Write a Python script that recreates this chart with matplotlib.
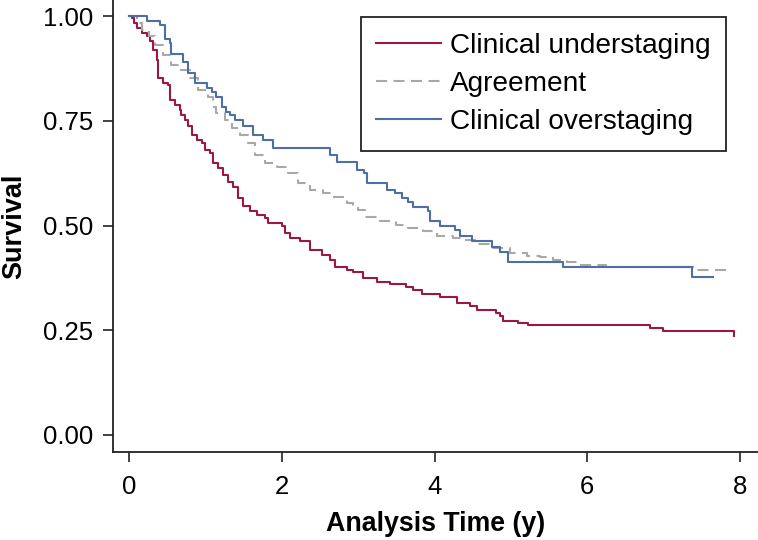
import numpy as np
import matplotlib
matplotlib.use('Agg')
import matplotlib.pyplot as plt

plt.rcParams['font.family'] = ['Liberation Sans', 'DejaVu Sans']

# ------- Kaplan-Meier data -------
under_t = [0, 0.03, 0.06, 0.094, 0.16, 0.225, 0.27, 0.31, 0.356, 0.378, 0.44, 0.51, 0.53,
           0.60, 0.66, 0.68, 0.73, 0.77, 0.815, 0.88, 0.946, 0.99, 1.055, 1.10, 1.16, 1.23,
           1.295, 1.36, 1.426, 1.49, 1.58, 1.67, 1.78, 1.82, 2.0, 2.04, 2.10, 2.23, 2.37,
           2.52, 2.63, 2.69, 2.85, 2.93, 3.06, 3.24, 3.41, 3.63, 3.72, 3.83, 4.07, 4.29,
           4.46, 4.55, 4.81, 4.86, 4.90, 5.10, 5.23, 6.82, 7.0, 7.93]
under_s = [1.0, 0.996, 0.984, 0.972, 0.960, 0.952, 0.94, 0.92, 0.896, 0.852, 0.84, 0.836, 0.80,
           0.788, 0.777, 0.765, 0.753, 0.737, 0.717, 0.705, 0.697, 0.681, 0.673, 0.649, 0.637, 0.621,
           0.605, 0.593, 0.566, 0.546, 0.534, 0.526, 0.518, 0.506, 0.498, 0.482, 0.470, 0.462, 0.442,
           0.430, 0.418, 0.402, 0.394, 0.390, 0.374, 0.366, 0.361, 0.354, 0.346, 0.337, 0.329, 0.315,
           0.309, 0.299, 0.292, 0.283, 0.273, 0.268, 0.263, 0.255, 0.247, 0.235]

agree_t = [0, 0.094, 0.16, 0.25, 0.33, 0.44, 0.55, 0.66, 0.79, 0.90, 1.03, 1.10, 1.14, 1.25,
           1.34, 1.45, 1.56, 1.64, 1.78, 1.93, 2.08, 2.21, 2.37, 2.54, 2.67, 2.85, 2.93, 3.0,
           3.09, 3.28, 3.50, 3.65, 3.85, 4.03, 4.24, 4.37, 4.55, 4.77, 4.99, 5.21, 5.38, 5.55,
           5.73, 5.90, 6.25, 7.45, 7.89]
agree_s = [1.0, 0.984, 0.968, 0.952, 0.932, 0.908, 0.884, 0.872, 0.852, 0.824, 0.808, 0.784, 0.770, 0.753,
           0.733, 0.717, 0.697, 0.669, 0.649, 0.641, 0.625, 0.601, 0.585, 0.577, 0.569, 0.553, 0.546, 0.538,
           0.520, 0.512, 0.502, 0.494, 0.486, 0.476, 0.470, 0.466, 0.456, 0.446, 0.434, 0.428, 0.424, 0.418,
           0.412, 0.406, 0.402, 0.394, 0.394]

over_t = [0, 0.225, 0.40, 0.465, 0.53, 0.55, 0.705, 0.77, 0.86, 1.01, 1.08, 1.14, 1.21, 1.27,
          1.32, 1.38, 1.49, 1.62, 1.75, 1.88, 2.63, 2.72, 2.98, 3.07, 3.11, 3.37, 3.48, 3.57,
          3.65, 3.72, 3.92, 3.94, 4.07, 4.27, 4.33, 4.49, 4.75, 4.86, 4.96, 5.68, 7.37, 7.65]
over_s = [1.0, 0.990, 0.980, 0.945, 0.936, 0.910, 0.892, 0.864, 0.840, 0.828, 0.820, 0.808, 0.784, 0.772,
          0.765, 0.753, 0.737, 0.717, 0.705, 0.685, 0.669, 0.653, 0.633, 0.625, 0.601, 0.585, 0.577, 0.565,
          0.557, 0.544, 0.534, 0.512, 0.498, 0.490, 0.474, 0.462, 0.450, 0.438, 0.412, 0.400, 0.378, 0.378]

labels = ['Clinical understaging', 'Agreement', 'Clinical overstaging']
colors = ['#9c1840', '#a8a8a8', '#4e6ea6']
# ------- /

fig = plt.figure(figsize=(7.58, 5.40), dpi=100)
ax = fig.add_axes([113 / 758, 88 / 540, 645 / 758, 452 / 540])

ax.step(under_t, under_s, where='post', color=colors[0], lw=1.5, label=labels[0])
ax.step(agree_t, agree_s, where='post', color=colors[1], lw=1.5, dashes=(5.3, 3.1), label=labels[1])
ax.step(over_t, over_s, where='post', color=colors[2], lw=1.5, label=labels[2])

ax.set_xlim(-0.216, 8.24)
ax.set_ylim(-0.041, 1.039)
ax.set_xticks([0, 2, 4, 6, 8])
ax.set_yticks([0, 0.25, 0.5, 0.75, 1.0])
ax.set_yticklabels(['0.00', '0.25', '0.50', '0.75', '1.00'])

for side in ['top', 'right']:
    ax.spines[side].set_visible(False)
for side in ['left', 'bottom']:
    ax.spines[side].set_linewidth(1.3)
    ax.spines[side].set_color('#222222')

ax.tick_params(axis='both', length=7.5, width=1.2, color='#222222', labelsize=18.5)
ax.tick_params(axis='x', pad=9)
ax.tick_params(axis='y', pad=7)

ax.set_xlabel('Analysis Time (y)', fontsize=19.3, fontweight='bold', labelpad=9)
ax.set_ylabel('Survival', fontsize=19.5, fontweight='bold', labelpad=11)

# legend box, top right
leg = ax.legend(loc='upper right', bbox_to_anchor=(0.950, 0.962), borderaxespad=0,
                fontsize=20.2, handlelength=2.3, handletextpad=0.32, labelspacing=0.44,
                borderpad=0.55, fancybox=False, framealpha=1)
leg.get_frame().set_edgecolor('#222222')
leg.get_frame().set_linewidth(1.3)

fig.savefig('out.png', dpi=100)
